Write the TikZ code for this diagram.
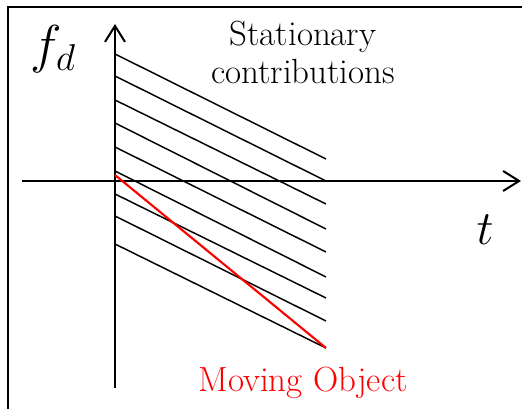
\RequirePackage{fix-cm}
\documentclass[tikz,border=0pt]{standalone}
\usepackage{amsmath,amssymb}
\usepackage{tikz}
\usetikzlibrary{positioning,arrows.meta}
\definecolor{moving}{HTML}{FF0000}
\definecolor{ink}{HTML}{000000}

\begin{document}
\begin{tikzpicture}[x=0.75pt,y=-0.75pt,font=\fontsize{26.2}{29}\selectfont,
  axis/.style={ink,line width=1.5pt,-{Straight Barb[length=12pt,width=15pt,line width=1.5pt]}},
  contrib/.style={ink,line width=1.1pt}]
\useasboundingbox (0,0) rectangle (522,409);
\draw[ink,line width=1.5pt] (8,412) -- (8,7) -- (525,7);
% axes
\coordinate (yfoot) at (115,388);
\coordinate (ytip) at (115,24);
\coordinate (xfoot) at (22,181);
\coordinate (xtip) at (521,181);
\draw[axis] (yfoot) -- (ytip);
\draw[axis] (xfoot) -- (xtip);
\node[anchor=base,font=\fontsize{40}{40}\selectfont] (fd) at (53,63) {$f_d$};
\node[anchor=base,font=\fontsize{36}{36}\selectfont] (tlab) at (485,245) {$t$};
% stationary lines
\foreach \ya/\yb in {54/159, 76/181, 100/204, 123/229, 147/252, 171/277, 194/298, 216/321, 244/348}
  {\draw[contrib] (115,\ya) -- (326,\yb);}
\draw[moving,line width=1.6pt] (115,175) -- (326,348);
\node[align=center,anchor=base] (stat) at (303,84) {Stationary\\contributions};
\node[moving,anchor=base] (obj) at (303,392) {Moving Object};
\end{tikzpicture}
\end{document}
